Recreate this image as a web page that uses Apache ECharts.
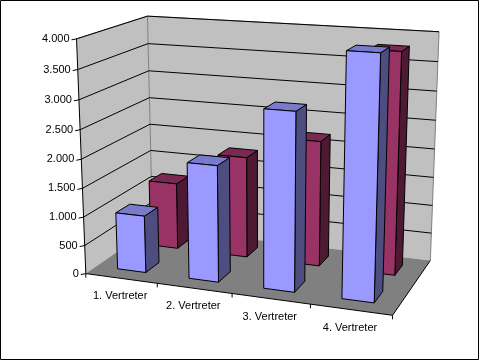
<!DOCTYPE html>
<html><head><meta charset="utf-8">
<style>html,body{margin:0;padding:0;background:#fff}#c{width:479px;height:360px}</style>
<script src="https://cdn.jsdelivr.net/npm/echarts@6/dist/echarts.min.js"></script>
</head><body><div id="c"></div>
<script>
const categories = ['1. Vertreter','2. Vertreter','3. Vertreter','4. Vertreter'];
const frontRow = [1000,2000,3000,4000];
const backRow = [1200,1800,2200,3800];
const yTicks = [0,500,1000,1500,2000,2500,3000,3500,4000];
const yTickLabels = ['0','500','1.000','1.500','2.000','2.500','3.000','3.500','4.000'];
const W=479,H=360,YMAX=4000;

// camera calibration: unit box corners -> screen
const calib=[[0,0,0,86,273],[0,0,1,77,39],[0,1,0,153,228],[0,1,1,147,16],[1,1,0,430,260],[1,1,1,439,32],[1,0,0,393,315],
[0,0,.5,81,159],[0,1,.5,150,124],[1,1,.5,435,149],[.25,0,0,157,284],[.5,0,0,232,293],[.75,0,0,310,305]];
function solveCamera(){
  const n=11,A=[...Array(n)].map(()=>Array(n+1).fill(0));
  const add=(r,b)=>{for(let i=0;i<n;i++){for(let j=0;j<n;j++)A[i][j]+=r[i]*r[j];A[i][n]+=r[i]*b;}};
  calib.forEach(([X,Y,Z,u,v])=>{
    add([X,Y,Z,1,0,0,0,0,-u*X,-u*Y,-u*Z],u);
    add([0,0,0,0,X,Y,Z,1,-v*X,-v*Y,-v*Z],v);
  });
  for(let i=0;i<n;i++){
    let m=i;for(let k=i+1;k<n;k++)if(Math.abs(A[k][i])>Math.abs(A[m][i]))m=k;
    [A[i],A[m]]=[A[m],A[i]];
    for(let k=0;k<n;k++)if(k!==i){const f=A[k][i]/A[i][i];for(let j=i;j<=n;j++)A[k][j]-=f*A[i][j];}
  }
  return A.map((r,i)=>r[n]/r[i]);
}
const P=solveCamera();
function proj(x,y,z){const w=P[8]*x+P[9]*y+P[10]*z+1;
  return [(P[0]*x+P[1]*y+P[2]*z+P[3])/w,(P[4]*x+P[5]*y+P[6]*z+P[7])/w];}

const poly=(pts,fill,stroke,lw)=>({type:'polygon',shape:{points:pts},style:{fill:fill,stroke:stroke||null,lineWidth:lw||1},silent:true});
const line=(a,b,stroke)=>({type:'line',shape:{x1:a[0],y1:a[1],x2:b[0],y2:b[1]},style:{stroke:stroke||'#000',lineWidth:1,fill:null},silent:true});
const txt=(s,x,y,align)=>({type:'text',x:x,y:y,style:{text:s,fill:'#000',font:'11px "Liberation Sans",Arial,sans-serif',align:align,verticalAlign:'middle'},silent:true});

function frameItem(){
  const a=proj(0,0,0),at=proj(0,0,1),b=proj(0,1,0),bt=proj(0,1,1),c=proj(1,1,0),ct=proj(1,1,1),d=proj(1,0,0);
  return {type:'group',children:[
    poly([[0.5,0.5],[W-0.5,0.5],[W-0.5,H-0.5],[0.5,H-0.5]],'#fff','#000',1),
    poly([a,at,bt,b],'#C0C0C0'),
    poly([b,bt,ct,c],'#C0C0C0'),
    poly([a,b,c,d],'#808080'),
    line(at,bt,'#808080'),line(bt,ct,'#808080'),line(ct,c,'#808080'),line(bt,b,'#808080'),
    line(a,d),line(d,c),line(a,at)
  ]};
}
function gridItem(params,api){
  const z=1-api.coord([0,api.value(0)])[1]/H;
  const a=proj(0,0,z),b=proj(0,1,z),c=proj(1,1,z);
  const i=params.dataIndex;
  const ch=[line([a[0]-5,a[1]+1],a),txt(yTickLabels[i],a[0]-7,a[1],'right')];
  if(i>0)ch.push(line(a,b),line(b,c));
  return {type:'group',children:ch};
}
function catItem(params,api){
  const i=params.dataIndex, s=api.size([1,0])[0]/W, cx=api.coord([i,0])[0]/W;
  const p=proj(cx,0,0), t=proj(cx+s/2,0,0);
  const ch=[line(t,[t[0],t[1]+4]),txt(categories[i],p[0]-1,p[1]+18,'center')];
  if(i===0){const o=proj(0,0,0);ch.push(line(o,[o[0],o[1]+4]));}
  return {type:'group',children:ch};
}
function barItem(y0,y1,cFront,cTop,cSide){
  return function(params,api){
    const pt=api.coord([api.value(0),api.value(1)]);
    const cx=pt[0]/W, z=1-pt[1]/H, hw=api.size([1,0])[0]/W*0.2;
    const x0=cx-hw,x1=cx+hw;
    const f0=proj(x0,y0,0),f1=proj(x1,y0,0),f2=proj(x1,y0,z),f3=proj(x0,y0,z);
    const b1=proj(x1,y1,0),b2=proj(x1,y1,z),b3=proj(x0,y1,z);
    return {type:'group',children:[
      poly([f1,b1,b2,f2],cSide,'#000',1),
      poly([f3,f2,b2,b3],cTop,'#000',1),
      poly([f0,f1,f2,f3],cFront,'#000',1)
    ]};
  };
}
const chart=echarts.init(document.getElementById('c'),null,{renderer:'canvas',width:W,height:H});
const base={type:'custom',coordinateSystem:'cartesian2d',animation:false,silent:true,clip:false};
chart.setOption({
  animation:false,backgroundColor:'#fff',
  grid:{left:0,top:0,width:W,height:H,containLabel:false},
  xAxis:{type:'category',data:categories,show:false},
  yAxis:{type:'value',min:0,max:YMAX,interval:500,show:false},
  tooltip:{show:false},
  series:[
    {...base,name:'frame',z:1,data:[[0,0]],renderItem:frameItem,encode:{x:0,y:1}},
    {...base,name:'grid',z:2,data:yTicks.map(v=>[v]),renderItem:gridItem,encode:{y:0}},
    {...base,name:'categories',z:3,data:categories.map((c,i)=>[i]),renderItem:catItem,encode:{x:0}},
    {...base,name:'back',z:4,data:backRow.map((v,i)=>[i,v]),encode:{x:0,y:1},renderItem:barItem(.65,.85,'#993366','#7A2952','#4D1933')},
    {...base,name:'front',z:5,data:frontRow.map((v,i)=>[i,v]),encode:{x:0,y:1},renderItem:barItem(.15,.35,'#9999FF','#7A7ACC','#4D4D80')}
  ]
});
</script></body></html>
